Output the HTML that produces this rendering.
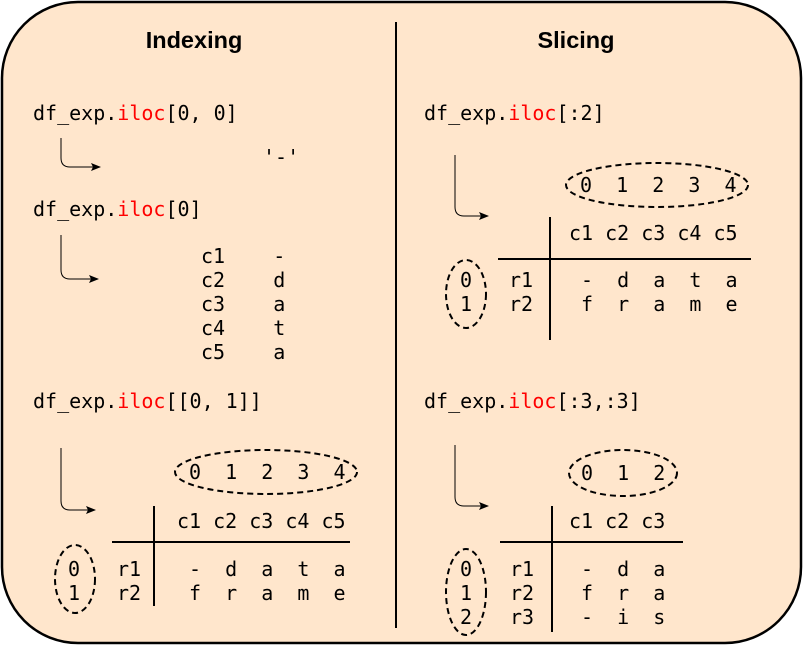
<!DOCTYPE html>
<html><head><meta charset="utf-8"><style>
html,body{margin:0;padding:0;background:#fff}
svg text{font-family:"DejaVu Sans Mono","Liberation Mono",monospace;font-size:20px;white-space:pre}
svg text.t{font-family:"Liberation Sans",sans-serif;font-weight:bold;font-size:23.5px}
.r{fill:#ff0000}
</style></head><body>
<svg width="803" height="646" viewBox="0 0 803 646" xmlns="http://www.w3.org/2000/svg" xml:space="preserve">
<defs><marker id="a" markerWidth="10" markerHeight="8" refX="9" refY="4" orient="auto" markerUnits="userSpaceOnUse"><path d="M0,0 L10,4 L0,8 L2,4 z" fill="#000"/></marker></defs>
<rect x="2" y="2" width="799" height="641" rx="76" ry="76" fill="#FFE6CC" stroke="#000" stroke-width="2.5"/>
<line x1="396" y1="22" x2="396" y2="628" stroke="#000" stroke-width="2"/>
<text class="t" x="194" y="48" text-anchor="middle">Indexing</text>
<text class="t" x="576" y="48" text-anchor="middle">Slicing</text>
<g fill="none" stroke="#000" stroke-width="1" >
<path d="M61,138 V158 Q61,167 70,167 H100" marker-end="url(#a)"/>
<path d="M61,235 V270 Q61,279 70,279 H98" marker-end="url(#a)"/>
<path d="M61,448 V501 Q61,510 70,510 H95" marker-end="url(#a)"/>
<path d="M455,155 V207 Q455,216 464,216 H488" marker-end="url(#a)"/>
<path d="M455,445 V497 Q455,506 464,506 H488" marker-end="url(#a)"/>
</g>
<g fill="none" stroke="#000" stroke-width="2" stroke-dasharray="6,4">
<ellipse cx="266" cy="472" rx="91" ry="22"/>
<ellipse cx="75" cy="579" rx="20" ry="34"/>
<ellipse cx="657" cy="185" rx="91" ry="22"/>
<ellipse cx="466" cy="294" rx="20" ry="34"/>
<ellipse cx="623" cy="473" rx="54" ry="23"/>
<ellipse cx="466" cy="592" rx="20" ry="43"/>
</g>
<g stroke="#000" stroke-width="2">
<line x1="154" y1="506" x2="154" y2="606"/><line x1="112" y1="542" x2="350" y2="542"/>
<line x1="550" y1="217" x2="550" y2="340"/><line x1="498" y1="259" x2="751" y2="259"/>
<line x1="552" y1="506" x2="552" y2="632"/><line x1="500" y1="542" x2="683" y2="542"/>
</g>
<text x="33" y="120">df_exp.<tspan class="r">iloc</tspan>[0, 0]</text>
<text x="263" y="164">'-'</text>
<text x="33" y="216">df_exp.<tspan class="r">iloc</tspan>[0]</text>
<text x="201" y="263">c1    -</text>
<text x="201" y="287">c2    d</text>
<text x="201" y="311">c3    a</text>
<text x="201" y="335">c4    t</text>
<text x="201" y="359">c5    a</text>
<text x="33" y="408">df_exp.<tspan class="r">iloc</tspan>[[0, 1]]</text>
<text x="189" y="479">0  1  2  3  4</text>
<text x="177" y="528">c1 c2 c3 c4 c5</text>
<text x="68" y="576">0</text><text x="68" y="600">1</text>
<text x="117" y="576">r1</text><text x="117" y="600">r2</text>
<text x="189" y="576">-  d  a  t  a</text>
<text x="189" y="600">f  r  a  m  e</text>
<text x="424" y="120">df_exp.<tspan class="r">iloc</tspan>[:2]</text>
<text x="580" y="192">0  1  2  3  4</text>
<text x="569" y="240">c1 c2 c3 c4 c5</text>
<text x="460" y="287">0</text><text x="460" y="311">1</text>
<text x="509" y="287">r1</text><text x="509" y="311">r2</text>
<text x="581" y="287">-  d  a  t  a</text>
<text x="581" y="311">f  r  a  m  e</text>
<text x="424" y="408">df_exp.<tspan class="r">iloc</tspan>[:3,:3]</text>
<text x="581" y="480">0  1  2</text>
<text x="569" y="528">c1 c2 c3</text>
<text x="460" y="576">0</text><text x="460" y="600">1</text><text x="460" y="624">2</text>
<text x="510" y="576">r1</text><text x="510" y="600">r2</text><text x="510" y="624">r3</text>
<text x="581" y="576">-  d  a</text>
<text x="581" y="600">f  r  a</text>
<text x="581" y="624">-  i  s</text>
</svg>
</body></html>
